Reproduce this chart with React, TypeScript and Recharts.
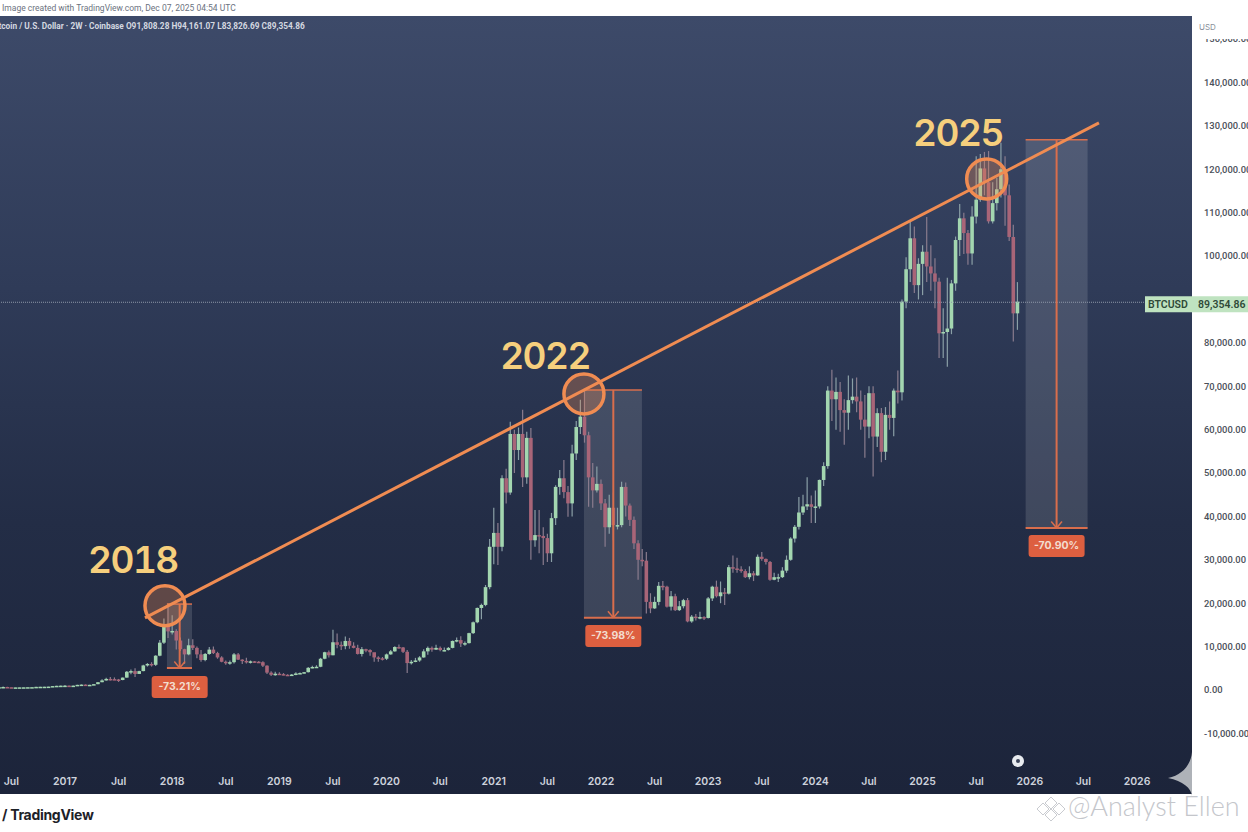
import {
  Bar,
  ComposedChart,
  ReferenceArea,
  ReferenceDot,
  ReferenceLine,
  XAxis,
  YAxis,
} from "recharts";

// every candle is [high, low, close]; the open is the close before it
const candles2016 = [
  [780, 560, 650], [790, 620, 690], [720, 600, 630], [640, 560, 590], [620, 560, 600], [620, 590, 610],
  [630, 590, 620], [650, 600, 640], [660, 630, 650], [740, 640, 720], [750, 700, 740], [760, 690, 750],
  [790, 730, 780], [920, 770, 900], [970, 880, 960], [1010, 930, 990],
];
const candles2017 = [
  [1130, 890, 1000], [1030, 880, 920], [1010, 900, 1000], [1200, 990, 1180], [1290, 1170, 1240], [1280, 930, 1040],
  [1210, 1010, 1190], [1360, 1180, 1340], [1800, 1320, 1790], [2500, 1790, 2200], [2800, 2100, 2550], [3000, 2200, 2500],
  [2900, 2300, 2420], [2550, 1850, 2300], [2900, 2250, 2850], [4400, 2800, 4200], [4700, 3600, 4350], [5000, 3000, 3700],
  [4450, 3700, 4350], [5800, 4300, 5650], [6200, 5400, 6000], [6400, 5400, 5800], [8000, 5500, 7900], [11500, 7800, 10900],
  [16500, 10600, 14800], [20000, 12000, 13500],
];
const candles2018 = [
  [17200, 12800, 13600], [14000, 9300, 11400], [12100, 9000, 9400], [9500, 6000, 8200], [11800, 8000, 10300], [11700, 9200, 9700],
  [10000, 7300, 8200], [9200, 6500, 6900], [8500, 6600, 8300], [9900, 8100, 9300], [10000, 8300, 8500], [8800, 7200, 7500],
  [7800, 6400, 6500], [6800, 5800, 6200], [6800, 5800, 6400], [8500, 6100, 8200], [8500, 6900, 7000], [7100, 6000, 6700],
  [7400, 6100, 6500], [6800, 6100, 6600], [6700, 6300, 6500], [6700, 6200, 6400], [6600, 5300, 5600], [5700, 3700, 4000],
  [4300, 3200, 3500], [4200, 3300, 3750],
];
const candles2019 = [
  [4100, 3500, 3650], [3900, 3400, 3500], [3650, 3350, 3450], [3700, 3400, 3550], [4100, 3400, 3800], [4000, 3700, 3900],
  [4150, 3800, 4100], [5300, 4050, 5100], [5600, 5000, 5300], [5700, 5100, 5350], [7400, 5250, 7200], [8800, 7100, 8700],
  [9100, 7500, 8000], [13900, 8000, 11000], [13000, 9600, 10400], [11200, 9200, 10100], [12300, 9400, 11300], [12000, 9500, 10200],
  [11000, 9600, 9700], [10400, 8200, 8300], [9900, 7700, 9400], [9500, 8700, 9200], [9400, 7900, 8700], [8500, 6500, 7500],
  [7800, 6500, 7300], [7600, 6800, 7200],
];
const candles2020 = [
  [8400, 6900, 8200], [9200, 8100, 8900], [10100, 8800, 9900], [10500, 9500, 9800], [9900, 8500, 8800], [9200, 3900, 6200],
  [6900, 5900, 6500], [7400, 6400, 6800], [7800, 6500, 7500], [9400, 7400, 8900], [10000, 8100, 9700], [10000, 8800, 9300],
  [10400, 9200, 9700], [10000, 8900, 9200], [9800, 8900, 9200], [9900, 9100, 9700], [11400, 9600, 11300], [12100, 11000, 11500],
  [12400, 9900, 10700], [11200, 10200, 10800], [13200, 10700, 13100], [15800, 12900, 15600], [19000, 15400, 18900], [19900, 16300, 19600],
  [24200, 19300, 23700], [34800, 23200, 33000],
];
const candles2021 = [
  [42000, 29000, 36200], [38500, 28800, 33000], [49500, 32000, 48800], [51000, 43000, 45500], [61800, 45000, 59000], [60000, 50000, 55300],
  [60500, 53000, 59000], [64600, 46800, 49000], [59500, 47500, 58100], [60400, 30000, 34500], [41500, 33000, 35700], [41500, 31500, 35500],
  [37500, 28800, 35000], [36000, 29500, 31500], [40800, 29500, 39600], [47200, 38000, 46800], [50700, 45000, 48800], [53000, 44200, 45600],
  [47000, 39900, 43000], [56500, 40000, 54500], [62000, 53000, 60600], [66900, 59000, 63000], [69000, 57000, 58700], [59500, 42200, 49000],
  [52300, 42000, 46000], [51500, 45500, 47500],
];
const candles2022 = [
  [48500, 41500, 43000], [44000, 33000, 37500], [45000, 36000, 42000], [45500, 34500, 38000], [42000, 37000, 38000], [48000, 37500, 46800],
  [47800, 40000, 42500], [43000, 37800, 39200], [40000, 32500, 33800], [34500, 25400, 30000], [32500, 28500, 29800], [31800, 17600, 20300],
  [22300, 17700, 18800], [21500, 18700, 20300], [24900, 19500, 24000], [25100, 23000, 23800], [24000, 19000, 19200], [22800, 18300, 21600],
  [22200, 18200, 18400], [20500, 18200, 19300], [21000, 18800, 20700], [21200, 15600, 15800], [17300, 15500, 16900], [17500, 16000, 16700],
  [18000, 16300, 16800], [17000, 16100, 16600],
];
const candles2023 = [
  [21400, 16500, 21100], [24000, 20500, 23800], [25200, 21300, 21600], [25000, 20000, 22500], [23500, 19600, 22200], [28800, 22000, 28300],
  [31000, 27000, 28000], [30500, 27000, 27800], [28500, 27000, 27400], [27800, 25800, 26000], [28500, 25500, 26900], [27400, 25100, 26400],
  [31200, 26300, 30700], [31800, 29800, 30200], [30300, 28900, 29500], [29700, 25200, 25400], [27000, 25300, 26000], [26800, 24900, 26000],
  [28300, 25800, 27500], [31000, 27000, 30000], [35200, 29800, 34900], [38000, 34000, 37600], [44500, 37000, 40900], [45000, 40300, 42300],
  [49000, 41500, 42800], [44800, 38500, 42200],
];
const candles2024 = [
  [46000, 38500, 42300], [48500, 41800, 48400], [52500, 47000, 51600], [70000, 51000, 69000], [73800, 62000, 67000], [72000, 60000, 68700],
  [71000, 59500, 64500], [67000, 56500, 63900], [72500, 60000, 66800], [71800, 66000, 67600], [72000, 64000, 66500], [69000, 60000, 62300],
  [68000, 53500, 60700], [70000, 58000, 68400], [70000, 49200, 58400], [64900, 56000, 63800], [65000, 52500, 54900], [65200, 53000, 63400],
  [66500, 60000, 62700], [69500, 58500, 69000], [73600, 66000, 68600], [90000, 66700, 89500], [99700, 88000, 96970], [108000, 94000, 104100],
  [106800, 91500, 93300], [99500, 90000, 98200],
];
const candles2025 = [
  [102500, 91000, 101000], [109000, 94000, 97600], [102500, 92000, 96000], [99500, 88000, 94100], [95000, 76500, 82200], [88000, 76500, 82500],
  [95000, 74500, 83300], [94500, 82000, 93700], [104500, 92000, 103700], [112000, 100000, 108700], [110000, 100500, 105300], [106000, 98000, 100600],
  [111500, 98000, 109100], [123000, 107500, 113000], [123500, 112500, 120200], [124000, 114000, 117000], [124200, 107500, 108000], [117000, 107500, 112200],
  [118000, 110500, 115400], [126100, 113500, 120000], [123000, 107000, 114000], [116500, 103500, 104400], [107200, 80300, 86800], [94000, 83000, 89500],
];

const firstCandle = 2016.387;
const firstOpen = 600;
const lastPrice = 89354.86;

const timeTicks = [
  2016.5, 2017, 2017.5, 2018, 2018.5, 2019, 2019.5, 2020, 2020.5, 2021, 2021.5, 2022, 2022.5, 2023, 2023.5, 2024, 2024.5, 2025,
  2025.5, 2026, 2026.5, 2027,
];
const timeLabels = [
  "Jul", "2017", "Jul", "2018", "Jul", "2019", "Jul", "2020", "Jul", "2021", "Jul", "2022", "Jul", "2023", "Jul", "2024", "Jul", "2025",
  "Jul", "2026", "Jul", "2026",
];
// 90,000 sits under the BTCUSD price tag, so it is not listed
const priceTicks = [
  -10000, 0, 10000, 20000, 30000, 40000, 50000, 60000, 70000, 80000, 100000, 110000, 120000, 130000, 140000, 150000,
];

const peakYears = ["2018", "2022", "2025"];
const peakX = [2017.933, 2021.841, 2025.598];
const peakY = [19430, 68230, 117780];
const yearLabelX = [2017.634, 2021.478, 2025.33];
const yearLabelY = [29965, 76990, 128390];

const boxLeft = [2017.951, 2021.841, 2025.961];
const boxRight = [2018.185, 2022.382, 2026.539];
const boxMid = [2018.07, 2022.115, 2026.25];
const boxTop = [19800, 69150, 126800];
const boxBottom = [5070, 16660, 37340];
const dropLabels = ["-73.21%", "-73.98%", "-70.90%"];
const dropLabelY = [690, 12450, 33190];

const rows = [
  ...candles2016, ...candles2017, ...candles2018, ...candles2019, ...candles2020,
  ...candles2021, ...candles2022, ...candles2023, ...candles2024, ...candles2025,
];
const data = rows.map(([high, low, close], i) => ({
  t: firstCandle + i / 26,
  open: i === 0 ? firstOpen : rows[i - 1][2],
  high,
  low,
  close,
  range: [low, high],
}));

const up = "#a3d6b0";
const upWick = "#8a9fa6";
const down = "#a86578";
const downWick = "#8a7c8e";
const orange = "#f08c52";
const dropOrange = "#d96e4c";

function Candle(props: any) {
  const { x, y, width, height, payload } = props;
  const { open, close, high, low } = payload;
  const top = Math.min(y, y + height);
  const h = Math.abs(height);
  const span = high - low || 1;
  const toY = (v: number) => top + ((high - v) / span) * h;
  const rising = close >= open;
  const bodyTop = toY(Math.max(open, close));
  const bodyBottom = toY(Math.min(open, close));
  const mid = x + width / 2;
  return (
    <g>
      <line x1={mid} x2={mid} y1={top} y2={top + h} stroke={rising ? upWick : downWick} strokeWidth={1.2} />
      <rect
        x={x}
        y={bodyTop}
        width={width}
        height={Math.max(1.5, bodyBottom - bodyTop)}
        fill={rising ? up : down}
      />
    </g>
  );
}

function YearLabel({ cx, cy, text }: any) {
  return (
    <text
      x={cx}
      y={cy}
      textAnchor="middle"
      dominantBaseline="central"
      fill="#f6cf7d"
      fontSize={37}
      fontWeight={600}
      letterSpacing={-1.5}
      fontFamily="Inter, sans-serif"
      style={{ fontVariantNumeric: "tabular-nums" }}
    >
      {text}
    </text>
  );
}

function DropLabel({ cx, cy, text }: any) {
  return (
    <g>
      <rect x={cx - 28} y={cy - 11} width={56} height={22} rx={3} fill="#dd5f40" />
      <text
        x={cx}
        y={cy}
        textAnchor="middle"
        dominantBaseline="central"
        fill="#f3dccf"
        fontSize={10.5}
        fontWeight={700}
        fontFamily="Inter, sans-serif"
      >
        {text}
      </text>
    </g>
  );
}

function PriceTag({ viewBox }: any) {
  const right = viewBox.x + viewBox.width;
  const y = viewBox.y;
  return (
    <g fontFamily="Roboto, sans-serif" fontSize={10.5} fontWeight={600} fill="#2f4a38">
      <rect x={right - 47} y={y - 6} width={103} height={16} fill="#bfe3c0" />
      <text x={right - 44} y={y + 2} dominantBaseline="central">BTCUSD</text>
      <text x={right + 6} y={y + 2} dominantBaseline="central">{lastPrice.toLocaleString("en-US")}</text>
    </g>
  );
}

function EventDot({ cx, cy }: any) {
  return (
    <g>
      <circle cx={cx} cy={cy} r={6} fill="#e8ebef" />
      <circle cx={cx} cy={cy} r={2} fill="#3a4358" />
    </g>
  );
}

export default function App() {
  return (
    <div
      style={{
        position: "absolute",
        left: 0,
        top: 0,
        width: 1248,
        height: 832,
        background: "#fff",
        overflow: "hidden",
        fontFamily: "Inter, sans-serif",
      }}
    >
      <div
        style={{
          position: "absolute",
          left: 0,
          top: 16,
          width: 1192,
          height: 778,
          background: "linear-gradient(180deg, #3d4a69 0%, #2f3b58 35%, #232d46 65%, #1c243a 100%)",
        }}
      />
      <div
        style={{
          position: "absolute",
          left: 2,
          top: 3,
          fontSize: 8.5,
          fontFamily: "Roboto, sans-serif",
          color: "#6b7280",
          whiteSpace: "nowrap",
        }}
      >
        Image created with TradingView.com, Dec 07, 2025 04:54 UTC
      </div>
      <div
        style={{
          position: "absolute",
          left: -9,
          top: 21,
          fontSize: 8.3,
          fontWeight: 700,
          fontFamily: "Roboto, sans-serif",
          color: "#d4d8e0",
          whiteSpace: "nowrap",
        }}
      >
        Bitcoin / U.S. Dollar · 2W · Coinbase O91,808.28 H94,161.07 L83,826.69 C89,354.86
      </div>

      <div style={{ position: "absolute", left: 0, top: 0 }}>
        <ComposedChart width={1248} height={832} data={data} margin={{ top: 16, right: 0, bottom: 38, left: 0 }}>
          <XAxis
            dataKey="t"
            type="number"
            domain={[2016.394, 2027.513]}
            allowDataOverflow
            ticks={timeTicks}
            interval={0}
            tickFormatter={(t: number) => timeLabels[timeTicks.indexOf(t)]}
            height={28}
            axisLine={false}
            tickLine={false}
            tickMargin={6}
            tick={{ fill: "#cdd2dc", fontSize: 10.5, fontWeight: 600 }}
          />
          <YAxis
            orientation="right"
            type="number"
            domain={[-17520, 155326]}
            allowDataOverflow
            ticks={priceTicks}
            interval={0}
            width={56}
            axisLine={false}
            tickLine={false}
            tickMargin={6}
            tick={{ fill: "#4a4f59", fontSize: 9.4, fontWeight: 500, fontFamily: "Roboto, sans-serif" }}
            tickFormatter={(v: number) =>
              v.toLocaleString("en-US", { minimumFractionDigits: 2, maximumFractionDigits: 2 })
            }
          />
          <Bar dataKey="range" barSize={3.6} shape={<Candle />} isAnimationActive={false} />

          <ReferenceLine
            y={lastPrice}
            stroke="#8f98a8"
            strokeWidth={1}
            strokeDasharray="1 1"
            label={<PriceTag />}
          />

          {peakYears.map((year, i) => (
            <ReferenceArea
              key={`box-${year}`}
              x1={boxLeft[i]}
              x2={boxRight[i]}
              y1={boxBottom[i]}
              y2={boxTop[i]}
              fill="#ffffff"
              fillOpacity={0.13}
              stroke="none"
            />
          ))}
          {peakYears.map((year, i) => (
            <ReferenceLine
              key={`top-${year}`}
              segment={[{ x: boxLeft[i], y: boxTop[i] }, { x: boxRight[i], y: boxTop[i] }]}
              stroke={dropOrange}
              strokeWidth={1.5}
            />
          ))}
          {peakYears.map((year, i) => (
            <ReferenceLine
              key={`bottom-${year}`}
              segment={[{ x: boxLeft[i], y: boxBottom[i] }, { x: boxRight[i], y: boxBottom[i] }]}
              stroke={dropOrange}
              strokeWidth={2}
            />
          ))}
          {peakYears.map((year, i) => (
            <ReferenceLine
              key={`arrow-${year}`}
              segment={[{ x: boxMid[i], y: boxTop[i] }, { x: boxMid[i], y: boxBottom[i] }]}
              stroke={dropOrange}
              strokeWidth={2}
            />
          ))}
          {peakYears.map((year, i) => (
            <ReferenceLine
              key={`head-l-${year}`}
              segment={[{ x: boxMid[i] - 0.05, y: boxBottom[i] + 1500 }, { x: boxMid[i], y: boxBottom[i] }]}
              stroke={dropOrange}
              strokeWidth={1.5}
            />
          ))}
          {peakYears.map((year, i) => (
            <ReferenceLine
              key={`head-r-${year}`}
              segment={[{ x: boxMid[i] + 0.05, y: boxBottom[i] + 1500 }, { x: boxMid[i], y: boxBottom[i] }]}
              stroke={dropOrange}
              strokeWidth={1.5}
            />
          ))}
          {peakYears.map((year, i) => (
            <ReferenceDot
              key={`drop-${year}`}
              x={boxMid[i]}
              y={dropLabelY[i]}
              r={1}
              shape={<DropLabel text={dropLabels[i]} />}
            />
          ))}

          <ReferenceLine
            segment={[{ x: 2017.746, y: 16600 }, { x: 2026.645, y: 130700 }]}
            stroke={orange}
            strokeWidth={3}
          />
          {peakYears.map((year, i) => (
            <ReferenceDot
              key={`peak-${year}`}
              x={peakX[i]}
              y={peakY[i]}
              r={20}
              fill={orange}
              fillOpacity={0.3}
              stroke={orange}
              strokeWidth={3.5}
            />
          ))}
          {peakYears.map((year, i) => (
            <ReferenceDot
              key={`year-${year}`}
              x={yearLabelX[i]}
              y={yearLabelY[i]}
              r={1}
              shape={<YearLabel text={year} />}
            />
          ))}
          <ReferenceDot x={2025.89} y={-16360} r={6} shape={<EventDot />} />
        </ComposedChart>
      </div>

      <div
        style={{
          position: "absolute",
          left: 1193,
          top: 16,
          width: 55,
          height: 23,
          background: "#fff",
          fontSize: 8,
          color: "#8a8f99",
          paddingLeft: 6,
          paddingTop: 6,
          boxSizing: "border-box",
        }}
      >
        USD
      </div>
      <svg style={{ position: "absolute", left: 1165, top: 750, width: 30, height: 46 }} viewBox="0 0 30 46">
        <path d="M27 2 C26 14 18 25 3 28 C18 31 26 38 27 46 Z" fill="#aeb2b8" />
      </svg>
      <div
        style={{
          position: "absolute",
          left: 2,
          top: 806,
          fontSize: 14,
          fontWeight: 700,
          letterSpacing: -0.3,
          color: "#1d2128",
          whiteSpace: "nowrap",
        }}
      >
        / TradingView
      </div>
      <svg style={{ position: "absolute", left: 1036, top: 794, width: 30, height: 30 }} viewBox="0 0 30 30">
        <g fill="none" stroke="#c9cbd0" strokeWidth={1}>
          <path d="M15 3 L21 9 L15 15 L9 9 Z" />
          <path d="M7 9 L13 15 L7 21 L1 15 Z" />
          <path d="M23 9 L29 15 L23 21 L17 15 Z" />
          <path d="M15 15 L21 21 L15 27 L9 21 Z" />
        </g>
      </svg>
      <div
        style={{
          position: "absolute",
          left: 1068,
          top: 789,
          fontSize: 27,
          fontWeight: 300,
          fontFamily: "Lato, sans-serif",
          color: "#c4c6cb",
          whiteSpace: "nowrap",
        }}
      >
        @Analyst Ellen
      </div>
    </div>
  );
}
